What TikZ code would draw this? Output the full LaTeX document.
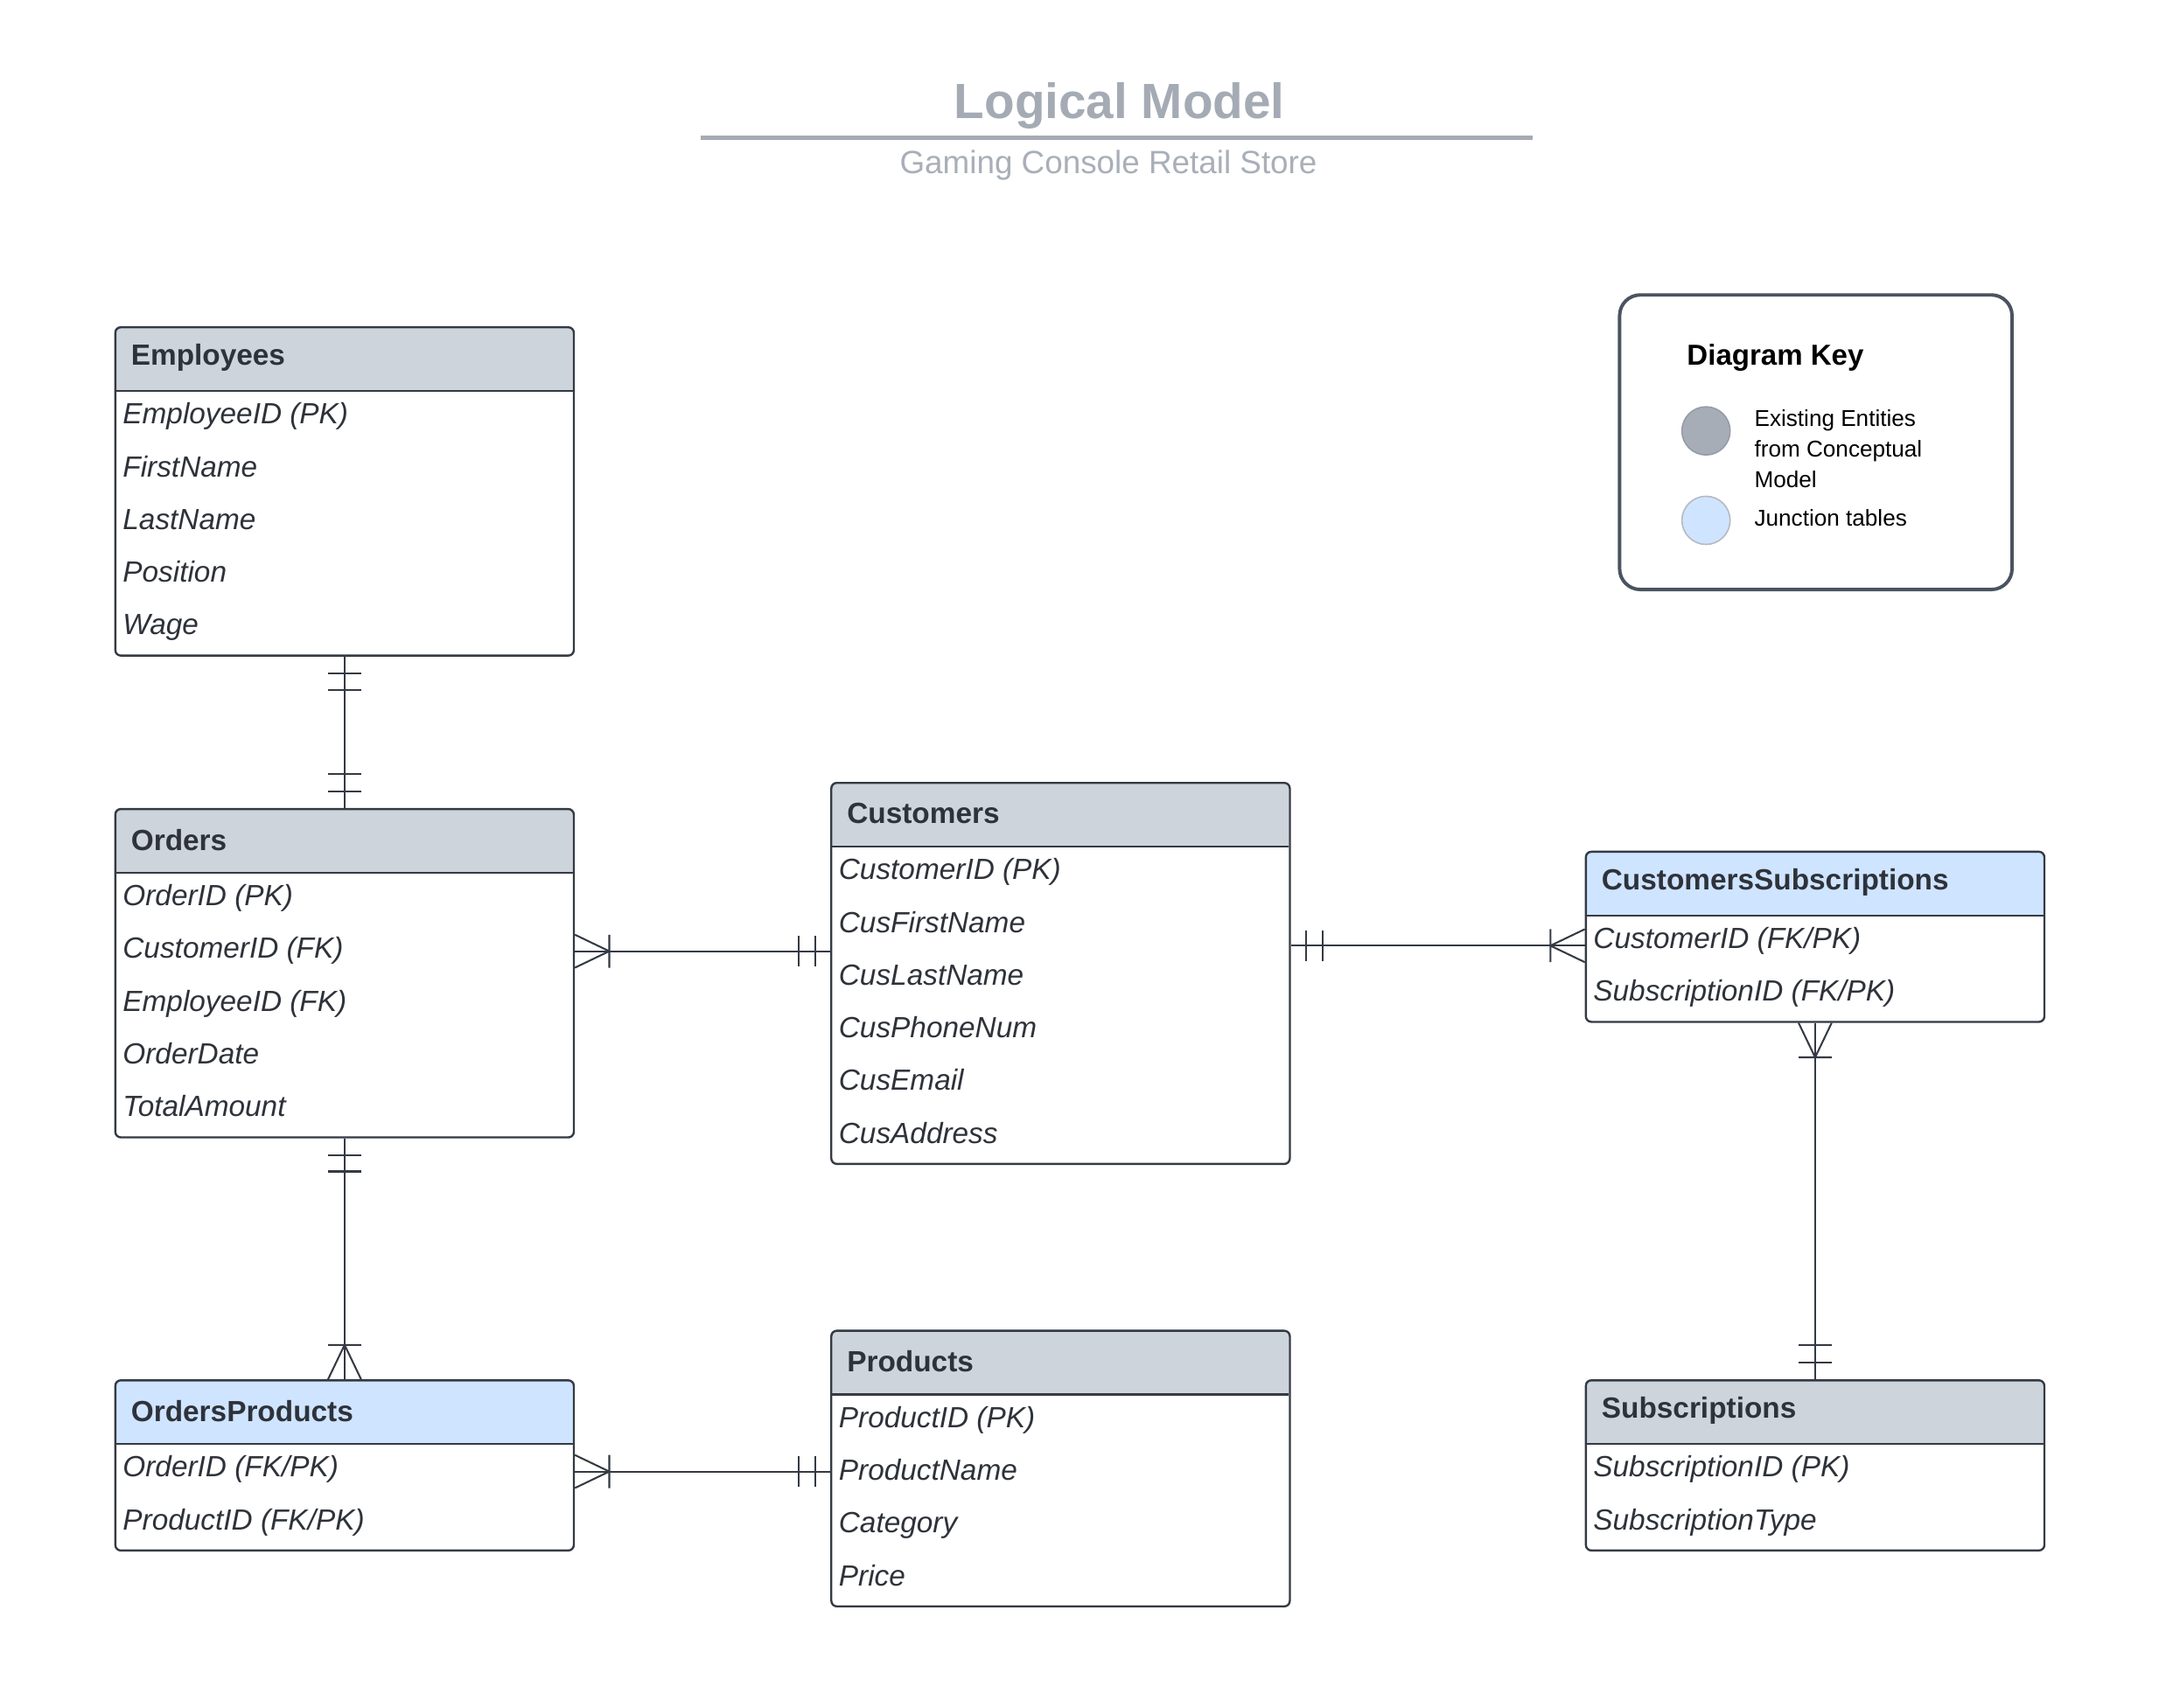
\documentclass[tikz,border=0pt]{standalone}
\usepackage{fontspec}
\setmainfont{Liberation Sans}
\usetikzlibrary{calc}
\definecolor{hdrgray}{HTML}{CED4DB}
\definecolor{hdrblue}{HTML}{CFE4FF}
\definecolor{edgecol}{HTML}{343A43}
\definecolor{txtcol}{HTML}{2E323A}
\definecolor{titlegray}{HTML}{A5ABB4}
\definecolor{subgray}{HTML}{A9AFB8}
\definecolor{keygray}{HTML}{A6ADB6}
\definecolor{keyring}{HTML}{959CA6}
\definecolor{keyborder}{HTML}{4B5360}

\tikzset{
  entbox/.style={draw=edgecol, line width=1.5, rounded corners=4, minimum width=333, inner sep=0, fill=none},
  divline/.style={draw=edgecol, line width=1.5},
  hdrtext/.style={font=\fontsize{21.2}{24}\selectfont\bfseries, text=txtcol, inner sep=0, anchor=west},
  rowtext/.style={font=\fontsize{21.2}{24}\selectfont\itshape, text=txtcol, inner sep=0, anchor=west, text height=16, text depth=4},
  conn/.style={draw=edgecol, line width=1.3},
  keytext/.style={font=\fontsize{16.6}{22}\selectfont, text=black, inner sep=0, anchor=west, align=left},
}

\newcommand\entity[7]{%
  \pgfmathsetmacro\eh{47+38.3*#4}%
  \begin{scope}
    \clip[rounded corners=4] (#2,#3) rectangle ++(333,\eh);
    \fill[#5] (#2,#3) rectangle ++(333,47);
  \end{scope}
  \node[entbox, minimum height=\eh, anchor=north west] (#1) at (#2,#3) {};
  \draw[divline] (#2,#3+47) -- ++(333,0);
  \node[hdrtext] (#1-t) at (#2+12,#3+23) {#6};
  \foreach \t [count=\i from 0] in {#7} {
    \node[rowtext] (#1-r\i) at (#2+6,#3+65+38.3*\i) {\t};
  }%
}
% crow's feet and double bars, drawn at a connector end point
\newcommand\crowR[1]{\draw[conn,shift={(#1)}] (0,-12) -- (25,0) -- (0,12) (25,-12) -- (25,12);}
\newcommand\crowL[1]{\draw[conn,shift={(#1)}] (0,-12) -- (-25,0) -- (0,12) (-25,-12) -- (-25,12);}
\newcommand\crowD[1]{\draw[conn,shift={(#1)}] (-12,0) -- (0,25) -- (12,0) (-12,25) -- (12,25);}
\newcommand\crowU[1]{\draw[conn,shift={(#1)}] (-12,0) -- (0,-25) -- (12,0) (-12,-25) -- (12,-25);}
\newcommand\twoR[1]{\draw[conn,shift={(#1)}] (11,-11) -- (11,11) (23,-11) -- (23,11);}
\newcommand\twoL[1]{\draw[conn,shift={(#1)}] (-11,-11) -- (-11,11) (-23,-11) -- (-23,11);}
\newcommand\twoD[1]{\draw[conn,shift={(#1)}] (-12,12) -- (12,12) (-12,24) -- (12,24);}
\newcommand\twoU[1]{\draw[conn,shift={(#1)}] (-12,-12) -- (12,-12) (-12,-25) -- (12,-25);}

\begin{document}
\begin{tikzpicture}[x=1pt,y=-1pt]
\useasboundingbox[fill=white] (0,0) rectangle (1568,1240.2);

% title
\node[font=\fontsize{36}{40}\selectfont\bfseries, text=titlegray, inner sep=0] (title) at (813,77) {Logical Model};
\coordinate (tl1) at (509,100);
\coordinate (tl2) at (1113,100);
\draw[titlegray, line width=3] (tl1) -- (tl2);
\node[font=\fontsize{23.4}{26}\selectfont, text=subgray, inner sep=0] (subtitle) at (805,120) {Gaming Console Retail Store};

% entities
\entity{emp}{83}{237}{5}{hdrgray}{Employees}{EmployeeID (PK),FirstName,LastName,Position,Wage}
\entity{ord}{83}{587}{5}{hdrgray}{Orders}{OrderID (PK),CustomerID (FK),EmployeeID (FK),OrderDate,TotalAmount}
\entity{cus}{603}{568}{6}{hdrgray}{Customers}{CustomerID (PK),CusFirstName,CusLastName,CusPhoneNum,CusEmail,CusAddress}
\entity{cs}{1151}{618}{2}{hdrblue}{CustomersSubscriptions}{CustomerID (FK/PK),SubscriptionID (FK/PK)}
\entity{op}{83}{1002}{2}{hdrblue}{OrdersProducts}{OrderID (FK/PK),ProductID (FK/PK)}
\entity{prd}{603}{966}{4}{hdrgray}{Products}{ProductID (PK),ProductName,Category,Price}
\entity{sub}{1151}{1002}{2}{hdrgray}{Subscriptions}{SubscriptionID (PK),SubscriptionType}

% key
\node[draw=keyborder, line width=2.5, rounded corners=15, minimum width=285, minimum height=214, inner sep=0, anchor=north west] (key) at (1175,213) {};
\node[font=\fontsize{21}{24}\selectfont\bfseries, text=black, inner sep=0, anchor=west] (keyt) at (1225,260) {Diagram Key};
\node[circle, draw=keyring, line width=1, fill=keygray, minimum size=35, inner sep=0] (kc1) at (1239,313) {};
\node[circle, draw=keyring!70, line width=1, fill=hdrblue, minimum size=35, inner sep=0] (kc2) at (1239,378) {};
\node[keytext] (kt1) at (1274,326) {Existing Entities\\from Conceptual\\Model};
\node[keytext] (kt2) at (1274,376) {Junction tables};

% connectors
\coordinate (yoc) at (0,691);
\coordinate (ycc) at (0,687);
\coordinate (yop) at (0,1069);

\draw[conn] (emp.south) -- (ord.north);
\twoD{emp.south}
\twoU{ord.north}

\draw[conn] (ord.east |- yoc) -- (cus.west |- yoc);
\crowR{ord.east |- yoc}
\twoL{cus.west |- yoc}

\draw[conn] (cus.east |- ycc) -- (cs.west |- ycc);
\twoR{cus.east |- ycc}
\crowL{cs.west |- ycc}

\draw[conn] (ord.south) -- (op.north);
\twoD{ord.south}
\crowU{op.north}

\draw[conn] (op.east |- yop) -- (prd.west |- yop);
\crowR{op.east |- yop}
\twoL{prd.west |- yop}

\draw[conn] (cs.south) -- (sub.north);
\crowD{cs.south}
\twoU{sub.north}
\end{tikzpicture}
\end{document}
